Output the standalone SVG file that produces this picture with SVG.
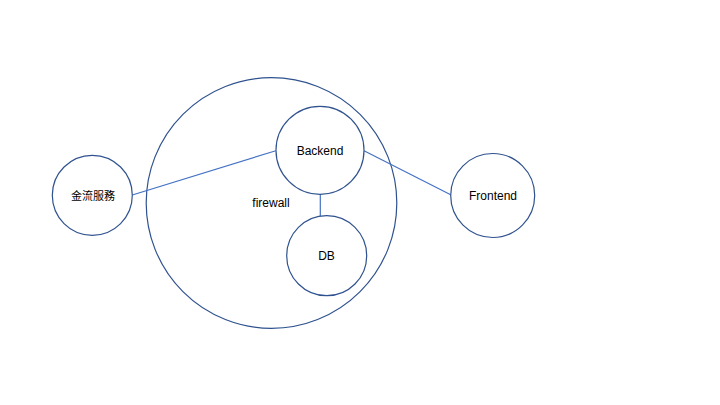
<svg xmlns="http://www.w3.org/2000/svg" width="720" height="405" viewBox="0 0 720 405">
<style>
.node{fill:#ffffff;stroke:#2F528F;stroke-width:1.2}
.zone{fill:none;stroke:#2F528F;stroke-width:1.2}
.edge{stroke:#4472C4;stroke-width:1.2;fill:none}
.lbl{font-family:"Liberation Sans","Noto Sans CJK TC",sans-serif;font-size:12px;fill:#000;text-anchor:middle;dominant-baseline:central}
.cjk{font-size:11px}
</style>
<rect width="720" height="405" fill="#ffffff"/>
<g id="firewall">
<circle class="zone" cx="271.5" cy="203" r="125.3"/>
<text class="lbl" x="271" y="203">firewall</text>
</g>
<g id="connectors">
<line class="edge" x1="132.3" y1="195" x2="275.8" y2="150.7"/>
<line class="edge" x1="364" y1="150.7" x2="451.2" y2="195"/>
<line class="edge" x1="320.3" y1="194" x2="320.3" y2="216"/>
</g>
<g id="backend">
<circle class="node" cx="320" cy="150.3" r="44"/>
<text class="lbl" x="320" y="151">Backend</text>
</g>
<g id="db">
<circle class="node" cx="326.7" cy="255.7" r="40"/>
<text class="lbl" x="326.5" y="256">DB</text>
</g>
<g id="payment">
<circle class="node" cx="92.3" cy="195.3" r="40"/>
<text class="lbl cjk" x="93" y="196">金流服務</text>
</g>
<g id="frontend">
<circle class="node" cx="492.7" cy="195.5" r="42"/>
<text class="lbl" x="493" y="196">Frontend</text>
</g>
</svg>
